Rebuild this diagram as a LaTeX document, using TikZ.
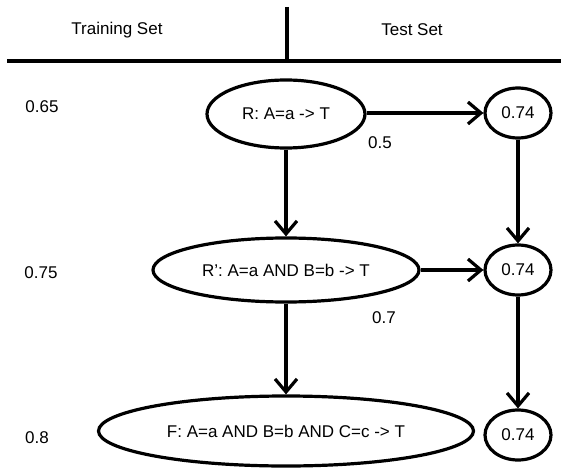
\documentclass[tikz,border=0pt]{standalone}
\usepackage{fontspec}
\setmainfont{Liberation Sans}
\usetikzlibrary{shapes.geometric,arrows.meta}
\begin{document}
\begin{tikzpicture}[x=1pt,y=-1pt,
  txt/.style={font=\fontsize{17}{20}\selectfont, inner sep=0pt},
  rule/.style={draw, ellipse, line width=3.2pt, inner sep=0pt, font=\fontsize{17}{20}\selectfont},
  val/.style={draw, ellipse, line width=3.2pt, inner sep=0pt, minimum width=66pt, minimum height=50pt, font=\fontsize{17}{20}\selectfont},
  arr/.style={line width=3.2pt, -{Straight Barb[length=13pt,width=22pt,line width=3.2pt]}},
  hline/.style={line width=3.4pt}]
\useasboundingbox (0,0) rectangle (561,470);
% header
\coordinate (vt) at (287,7);
\coordinate (vb) at (287,61);
\coordinate (hl) at (7,61);
\coordinate (hr) at (561,61);
\draw[hline] (vt) -- (vb);
\draw[hline] (hl) -- (hr);
\node[txt] (train) at (117,30) {Training Set};
\node[txt] (test) at (412,30) {Test Set};
% left values
\node[txt] (l1) at (42,107) {0.65};
\node[txt] (l2) at (41,273) {0.75};
\node[txt] (l3) at (37,438) {0.8};
% rules
\node[rule, minimum width=158pt, minimum height=68pt] (R) at (286,114) {R: A=a -> T};
\node[rule, minimum width=266pt, minimum height=64pt] (Rp) at (286,270) {R’: A=a AND B=b -> T};
\node[rule, minimum width=375pt, minimum height=70pt] (F) at (286,431) {F: A=a AND B=b AND C=c -> T};
% values
\node[val] (c1) at (518,113) {0.74};
\node[val] (c2) at (518,270) {0.74};
\node[val] (c3) at (518,435) {0.74};
% labels
\node[txt] (e1) at (380,143) {0.5};
\node[txt] (e2) at (384,318) {0.7};
% arrows
\draw[arr] (R.east |- c1) -- (c1.west);
\draw[arr] (Rp.east) -- (c2.west);
\draw[arr] (R.south) -- (Rp.north);
\draw[arr] (Rp.south) -- (F.north);
\draw[arr] (c1.south) -- (c2.north);
\draw[arr] (c2.south) -- (c3.north);
\end{tikzpicture}
\end{document}
